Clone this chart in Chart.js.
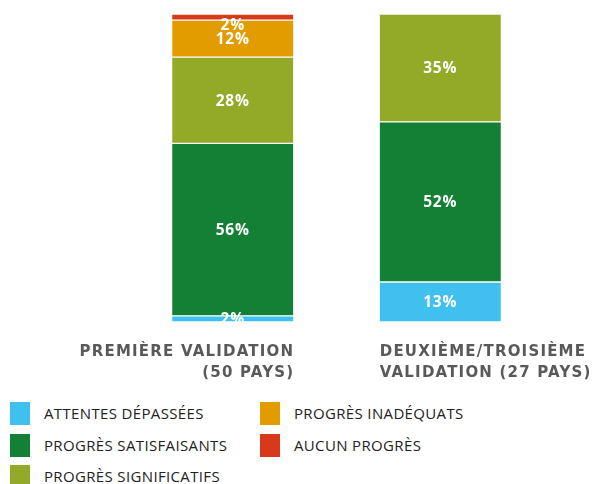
<!DOCTYPE html>
<html>
<head>
<meta charset="utf-8">
<script src="https://cdn.jsdelivr.net/npm/chart.js@4"></script>
<style>
  body { margin: 0; background: #fff; width: 592px; height: 484px; overflow: hidden; font-family: 'Open Sans', sans-serif; }
  #wrap { position: absolute; left: 0; top: 0; width: 592px; height: 392px; }
  #legend { position: absolute; left: 10px; top: 402px; display: grid; grid-template-rows: repeat(3, 31.5px); grid-auto-flow: column; grid-template-columns: 250px 250px; }
  .item { display: flex; align-items: flex-start; }
  .box { width: 20px; height: 23px; margin-right: 14px; }
  .txt { font-size: 15px; color: #222; line-height: 23px; letter-spacing: 0.35px; }
</style>
</head>
<body>
<div id="wrap"><canvas id="chart"></canvas></div>
<div id="legend"></div>
<script>
'use strict';

// **** Data ****
let categories = [['PREMIÈRE VALIDATION', '(50 PAYS)'], ['DEUXIÈME/TROISIÈME', 'VALIDATION (27 PAYS)']];
let seriesNames = ['ATTENTES DÉPASSÉES', 'PROGRÈS SATISFAISANTS', 'PROGRÈS SIGNIFICATIFS', 'PROGRÈS INADÉQUATS', 'AUCUN PROGRÈS'];
let attentes = [2, 13];
let satisfaisants = [56, 52];
let significatifs = [28, 35];
let inadequats = [12, 0];
let aucun = [2, 0];
let colors = ['#40c0ef', '#138036', '#93aa29', '#e29c00', '#d63a1a'];

let seriesValues = [attentes, satisfaisants, significatifs, inadequats, aucun];

// **** Plugins ****

// percentages inside the segments
let valueLabels = {
  id: 'valueLabels',
  afterDatasetsDraw(chart){
    let ctx = chart.ctx;
    let area = chart.chartArea;
    ctx.save();
    ctx.font = 'bold 15.5px "Open Sans"';
    ctx.letterSpacing = '0.8px';
    ctx.fillStyle = '#fff';
    ctx.textAlign = 'center';
    ctx.textBaseline = 'middle';
    chart.data.datasets.forEach((ds, i) => {
      let meta = chart.getDatasetMeta(i);
      meta.data.forEach((bar, j) => {
        let v = ds.data[j];
        if(!v){ return; }
        let y = (bar.y + bar.base) / 2 + 1;
        if(y < area.top + 12){ y = area.top + 12; }
        ctx.fillText(v + '%', bar.x, y);
      });
    });
    ctx.restore();
  }
};

// category labels under the bars
let categoryLabels = {
  id: 'categoryLabels',
  afterDraw(chart){
    let ctx = chart.ctx;
    let meta = chart.getDatasetMeta(0);
    let aligns = ['right', 'left'];
    ctx.save();
    ctx.font = 'bold 15px "DejaVu Sans"';
    ctx.letterSpacing = '1.2px';
    ctx.fillStyle = '#595959';
    ctx.textBaseline = 'middle';
    meta.data.forEach((bar, j) => {
      let half = bar.width / 2;
      let x = aligns[j] === 'right' ? bar.x + half + 1 : bar.x - half;
      ctx.textAlign = aligns[j];
      categories[j].forEach((line, k) => {
        ctx.fillText(line, x, 352 + k * 21);
      });
    });
    ctx.restore();
  }
};

// **** Chart ****
let datasets = seriesNames.map((name, i) => ({
  label: name,
  data: seriesValues[i],
  backgroundColor: colors[i],
  borderColor: '#fff',
  borderWidth: { top: 1, bottom: 1, left: 0, right: 0 },
  borderSkipped: false,
  barThickness: 121
}));

new Chart(document.getElementById('chart'), {
  type: 'bar',
  data: { labels: categories.map(c => c.join(' ')), datasets: datasets },
  options: {
    responsive: true,
    maintainAspectRatio: false,
    animation: false,
    layout: { padding: { left: 129, right: 48, top: 14, bottom: 70 } },
    scales: {
      x: { stacked: true, display: false },
      y: { stacked: true, display: false, min: 0, max: 100 }
    },
    plugins: { legend: { display: false }, tooltip: { enabled: false } }
  },
  plugins: [valueLabels, categoryLabels]
});

// **** Legend ****
let legend = document.getElementById('legend');
seriesNames.forEach((name, i) => {
  let item = document.createElement('div');
  item.className = 'item';
  item.innerHTML = `<div class="box" style="background:${colors[i]}"></div><div class="txt">${name}</div>`;
  legend.appendChild(item);
});
</script>
</body>
</html>
